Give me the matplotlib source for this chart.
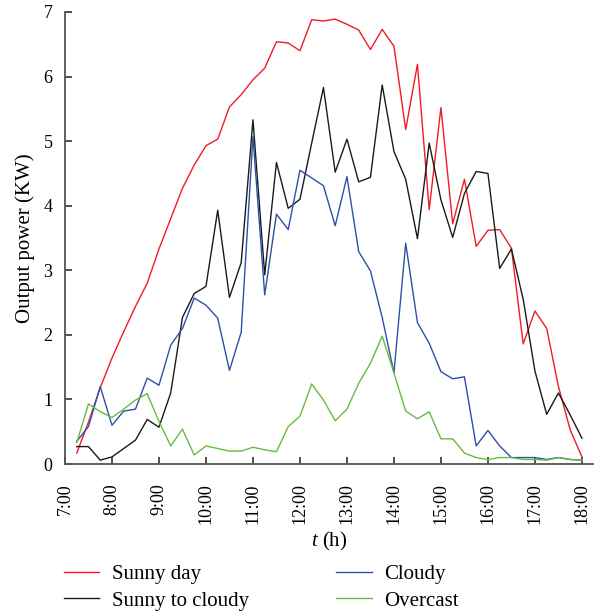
import numpy as np
import matplotlib
matplotlib.use("Agg")
import matplotlib.pyplot as plt

plt.rcParams['font.family'] = ['Liberation Serif', 'DejaVu Serif']
plt.rcParams['mathtext.fontset'] = 'custom'
plt.rcParams['mathtext.rm'] = 'Liberation Serif'
plt.rcParams['mathtext.it'] = 'Liberation Serif:italic'

# readings every 15 min, 7:15 .. 18:00
hours = 7.25 + 0.25 * np.arange(44)

sunny = [0.17, 0.65, 1.18, 1.64, 2.05, 2.44, 2.80, 3.33, 3.80, 4.27, 4.63, 4.93,
         5.03, 5.53, 5.72, 5.95, 6.13, 6.54, 6.52, 6.40, 6.88, 6.86, 6.89, 6.81,
         6.72, 6.42, 6.73, 6.47, 5.18, 6.19, 3.94, 5.52, 3.72, 4.41, 3.37, 3.62,
         3.63, 3.34, 1.86, 2.37, 2.10, 1.20, 0.53, 0.11]
sunny_to_cloudy = [0.27, 0.27, 0.06, 0.11, 0.24, 0.37, 0.69, 0.57, 1.10, 2.27, 2.64, 2.75,
                   3.93, 2.58, 3.12, 5.33, 2.93, 4.67, 3.96, 4.10, 4.97, 5.83, 4.52, 5.03,
                   4.37, 4.44, 5.87, 4.84, 4.41, 3.49, 4.97, 4.09, 3.51, 4.19, 4.53, 4.50,
                   3.03, 3.33, 2.55, 1.44, 0.77, 1.10, 0.76, 0.40]
cloudy = [0.35, 0.58, 1.20, 0.60, 0.82, 0.85, 1.33, 1.22, 1.84, 2.10, 2.57, 2.46,
          2.26, 1.45, 2.04, 5.07, 2.62, 3.87, 3.63, 4.55, 4.43, 4.31, 3.69, 4.45,
          3.29, 2.99, 2.27, 1.41, 3.42, 2.19, 1.87, 1.43, 1.32, 1.35, 0.28, 0.52,
          0.28, 0.10, 0.10, 0.10, 0.07, 0.10, 0.07, 0.06]
overcast = [0.33, 0.93, 0.81, 0.72, 0.85, 0.99, 1.09, 0.66, 0.28, 0.54, 0.14, 0.28,
            0.24, 0.20, 0.20, 0.26, 0.22, 0.19, 0.58, 0.74, 1.24, 0.99, 0.67, 0.85,
            1.25, 1.56, 1.98, 1.41, 0.82, 0.70, 0.81, 0.39, 0.39, 0.17, 0.10, 0.07,
            0.10, 0.10, 0.07, 0.07, 0.06, 0.10, 0.07, 0.06]

tick_hours = list(range(7, 19))
tick_labels = ["%d:00" % h for h in tick_hours]

fig = plt.figure(figsize=(5.95, 6.12), dpi=100)
ax = fig.add_axes([0.1092, 0.2418, 0.887, 0.7386])

lw = 1.0
ax.plot(hours, sunny, color='#f01c24', lw=lw, label='Sunny day')
ax.plot(hours, sunny_to_cloudy, color='#1a1a1a', lw=lw, label='Sunny to cloudy')
ax.plot(hours, cloudy, color='#2f4fa8', lw=lw, label='Cloudy')
ax.plot(hours, overcast, color='#66bb44', lw=lw, label='Overcast')

ax.set_xlim(7, 18.23)
ax.set_ylim(0, 7)
ax.set_xticks(tick_hours)
ax.set_xticklabels(tick_labels, rotation=90)
ax.set_yticks(range(0, 8))

for s in ['top', 'right']:
    ax.spines[s].set_visible(False)
for s in ['left', 'bottom']:
    ax.spines[s].set_color('#555555')
    ax.spines[s].set_linewidth(1.3)

ax.tick_params(axis='x', direction='in', length=5, width=1.2, color='#333333',
               labelsize=13, pad=14)
ax.tick_params(axis='y', direction='in', length=5, width=1.2, color='#333333',
               labelsize=13, pad=9)

ax.set_ylabel('Output power (KW)', fontsize=15, labelpad=6)
ax.set_xlabel('$t$ (h)', fontsize=15, labelpad=4)

fig.legend(loc='upper left', bbox_to_anchor=(0.107, 0.078), ncol=2, frameon=False,
           fontsize=15, handlelength=1.7, handletextpad=0.6, columnspacing=4.2,
           labelspacing=0.35, borderpad=0, borderaxespad=0)

fig.savefig('out.png', dpi=100)
